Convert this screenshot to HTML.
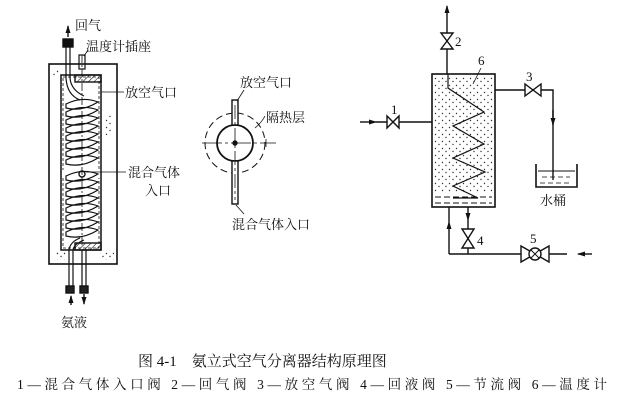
<!DOCTYPE html>
<html><head><meta charset="utf-8"><style>
body{margin:0;background:#fff}
svg{display:block}
text{font-family:"Liberation Serif","Noto Serif CJK SC",serif;fill:#111}
</style></head><body>
<svg width="626" height="405" viewBox="0 0 626 405" xmlns="http://www.w3.org/2000/svg">
<defs>
<pattern id="dots" width="7" height="7" patternUnits="userSpaceOnUse">
<circle cx="1.5" cy="1.5" r="0.7" fill="#333"/><circle cx="5" cy="4.5" r="0.7" fill="#333"/>
</pattern>
<pattern id="hatch" width="4" height="4" patternUnits="userSpaceOnUse" patternTransform="rotate(45)">
<line x1="0" y1="0" x2="0" y2="4" stroke="#111" stroke-width="1.2"/>
</pattern>
<marker id="ar" markerWidth="8" markerHeight="8" refX="7" refY="4" orient="auto" markerUnits="userSpaceOnUse">
<path d="M0,1.5 L8,4 L0,6.5 Z" fill="#111"/></marker>
</defs>
<g stroke="#111" fill="none" stroke-width="1.4">
<!-- LEFT separator -->
<rect x="49" y="64" width="68" height="200" stroke-width="1.6"/>
<rect x="61" y="75" width="40" height="175" stroke-width="1.5"/>
<rect x="63" y="77" width="36" height="171" stroke-dasharray="3,2" stroke-width="0.8"/>
<rect x="75" y="75" width="26" height="7" fill="url(#hatch)"/>
<rect x="75" y="243" width="26" height="7" fill="url(#hatch)"/>
<rect x="62" y="170" width="38" height="8" fill="#fff" stroke="none"/>
<rect x="52" y="70" width="8" height="6" fill="url(#dots)" stroke="none"/>
<rect x="104" y="115" width="8" height="20" fill="url(#dots)" stroke="none"/>
<rect x="55" y="250" width="12" height="10" fill="url(#dots)" stroke="none"/>
<rect x="100" y="250" width="14" height="10" fill="url(#dots)" stroke="none"/>
<!-- coil -->
<g stroke-width="1.2">
<path d="M66,46 L66,78 Q67,95 80,100"/>
<path d="M70,46 L70,78 Q71,90 84,96"/>
<g id="coil">
<path d="M66,104 Q82,96 98,102 Q82,112 66,108 Z"/>
<path d="M66,112 Q82,104 98,110 Q82,120 66,116 Z"/>
<path d="M66,120 Q82,112 98,118 Q82,128 66,124 Z"/>
<path d="M66,128 Q82,120 98,126 Q82,136 66,132 Z"/>
<path d="M66,136 Q82,128 98,134 Q82,144 66,140 Z"/>
<path d="M66,144 Q82,136 98,142 Q82,152 66,148 Z"/>
<path d="M66,152 Q82,144 98,150 Q82,160 66,156 Z"/>
<path d="M66,160 Q82,152 98,158 Q82,168 66,164 Z"/>
</g>
<use href="#coil" transform="translate(0,72)"/>
<path d="M80,238 Q70,242 69,250 L69,290"/>
<path d="M84,240 Q74,244 73,250 L73,290"/>
<path d="M82,250 L82,290 M86,250 L86,290"/>
<line x1="82" y1="55" x2="82" y2="245" stroke-dasharray="8,2,2,2" stroke-width="0.8"/>
<rect x="79" y="55" width="6" height="14"/>
</g>
<rect x="63" y="39" width="10" height="8" fill="#111"/>
<rect x="66" y="286" width="8" height="7" fill="#222"/>
<rect x="80" y="286" width="8" height="7" fill="#222"/>
<circle cx="82" cy="174" r="3"/>
<line x1="68" y1="37" x2="68" y2="26" marker-end="url(#ar)"/>
<line x1="71" y1="305" x2="71" y2="296" marker-end="url(#ar)"/>
<line x1="84" y1="294" x2="84" y2="304" marker-end="url(#ar)"/>
<line x1="84" y1="56" x2="88" y2="50" stroke-width="0.8"/>
<line x1="101" y1="92" x2="124" y2="92" stroke-width="0.8"/>
<line x1="86" y1="172" x2="126" y2="172" stroke-width="0.8"/>
<!-- MIDDLE -->
<circle cx="235" cy="143" r="30" stroke-dasharray="7,4" stroke-width="1"/>
<circle cx="235" cy="143" r="18" stroke-width="1.8"/>
<rect x="232" y="100" width="6" height="25" fill="#fff"/>
<rect x="232" y="161" width="6" height="43" fill="#fff"/>
<line x1="202" y1="143" x2="276" y2="143" stroke-width="0.8" stroke-dasharray="20,3,3,3"/>
<line x1="235" y1="105" x2="235" y2="200" stroke-width="0.8" stroke-dasharray="14,3,3,3"/>
<line x1="266" y1="139" x2="266" y2="147" stroke-width="0.8"/>
<circle cx="235" cy="143" r="2" fill="#111"/>
<line x1="237" y1="101" x2="244" y2="90" stroke-width="0.8"/>
<path d="M255,128 Q262,122 265,116" stroke-width="0.8"/>
<line x1="236" y1="205" x2="244" y2="214" stroke-width="0.8"/>
<!-- RIGHT -->
<rect x="432" y="74" width="63" height="133" stroke-width="1.6"/>
<rect x="434" y="76" width="59" height="116" fill="url(#dots)" stroke="none"/>
<line x1="435" y1="197" x2="492" y2="197" stroke-dasharray="6,3" stroke-width="0.9"/>
<line x1="435" y1="203" x2="492" y2="203" stroke-dasharray="6,3" stroke-width="0.9"/>
<path d="M448,74 L448,88 L484,112 L453,126 L484,144 L453,158 L485,172 L453,186 L478,198 L453,198" stroke-width="1.2"/>
<line x1="473" y1="84" x2="481" y2="68" stroke-width="0.8"/>
<line x1="447" y1="74" x2="447" y2="6" marker-end="url(#ar)"/>
<path d="M441,33 L453,33 L441,49 L453,49 Z" fill="#fff"/>
<line x1="360" y1="122" x2="376" y2="122" marker-end="url(#ar)"/>
<line x1="376" y1="122" x2="432" y2="122"/>
<path d="M387,116 L387,128 L399,116 L399,128 Z" fill="#fff"/>
<path d="M495,90 L553,90 L553,124" />
<line x1="553" y1="110" x2="553" y2="125" marker-end="url(#ar)"/>
<line x1="553" y1="124" x2="553" y2="180"/>
<path d="M525,84 L525,96 L541,84 L541,96 Z" fill="#fff"/>
<path d="M536,164 L536,187 L577,187 L577,164" stroke-width="1.6"/>
<line x1="538" y1="171" x2="575" y2="171" stroke-width="0.9"/>
<line x1="542" y1="177" x2="570" y2="177" stroke-dasharray="5,3" stroke-width="0.8"/>
<line x1="540" y1="183" x2="572" y2="183" stroke-dasharray="5,3" stroke-width="0.8"/>
<line x1="449" y1="254" x2="449" y2="222" marker-end="url(#ar)"/>
<line x1="449" y1="222" x2="449" y2="207"/>
<line x1="449" y1="254" x2="521" y2="254"/>
<line x1="468" y1="207" x2="468" y2="220" marker-end="url(#ar)"/>
<line x1="468" y1="220" x2="468" y2="254"/>
<path d="M462,229 L474,229 L462,248 L474,248 Z" fill="#fff"/>
<path d="M521,246 L521,262 L549,246 L549,262 Z" fill="#fff"/>
<circle cx="535" cy="254" r="6" fill="#fff"/>
<path d="M531,250 L539,258 M539,250 L531,258" stroke-width="1"/>
<line x1="549" y1="254" x2="567" y2="254"/>
<line x1="592" y1="254" x2="578" y2="254" marker-end="url(#ar)"/>
</g>
<g font-size="13">
<text x="75" y="30">回气</text>
<text x="86" y="51">温度计插座</text>
<text x="125" y="97">放空气口</text>
<text x="128" y="177">混合气体</text>
<text x="145" y="195">入口</text>
<text x="61" y="327">氨液</text>
<text x="240" y="87">放空气口</text>
<text x="266" y="122">隔热层</text>
<text x="232" y="229">混合气体入口</text>
<text x="540" y="205">水桶</text>
<text x="455" y="46">2</text>
<text x="391" y="114">1</text>
<text x="526" y="81">3</text>
<text x="477" y="245">4</text>
<text x="530" y="243">5</text>
<text x="478" y="65">6</text>
</g>
<text x="138" y="366" font-size="15">图 4-1　氨立式空气分离器结构原理图</text>
<text x="17" y="389" font-size="13.5" textLength="590">1—混合气体入口阀  2—回气阀  3—放空气阀  4—回液阀  5—节流阀  6—温度计</text>
</svg>
</body></html>
